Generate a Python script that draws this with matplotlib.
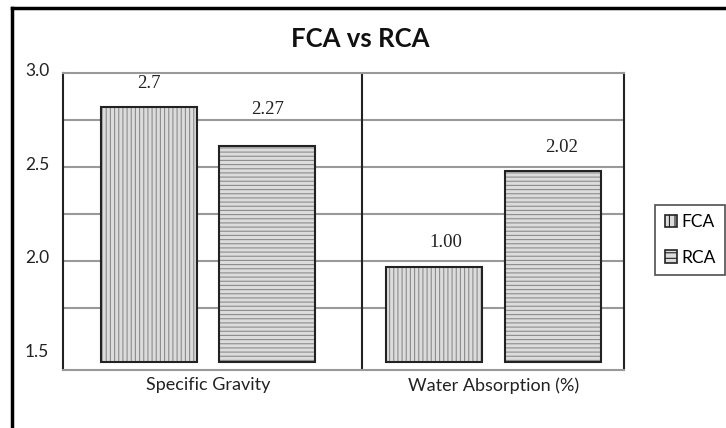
import matplotlib.pyplot as plt
import matplotlib.transforms as mtransforms
from matplotlib.lines import Line2D
from matplotlib.patches import Patch
import numpy as np

# Data
categories = ["Specific Gravity", "Water Absorption (%)"]
series = ["FCA", "RCA"]
fca_heights = [2.82, 1.97]
rca_heights = [2.61, 2.48]
fca_labels = ["2.7", "1.00"]
rca_labels = ["2.27", "2.02"]
yticks = [1.5, 2.0, 2.5, 3.0]
grid_vals = [1.75, 2.0, 2.25, 2.5, 2.75]

plt.rcParams['font.family'] = ['Lato', 'DejaVu Sans']
plt.rcParams['hatch.linewidth'] = 0.8

fig = plt.figure(figsize=(7.26, 4.28), dpi=100)
ax = fig.add_axes([0.0868, 0.1355, 0.7727, 0.6939])

x = np.arange(len(categories))
offset = 0.207
width = 0.336
base = 1.46

hatches = ['||||', '----']
for i, (heights, labels) in enumerate([(fca_heights, fca_labels), (rca_heights, rca_labels)]):
    pos = x + (-offset if i == 0 else offset)
    h = [v - base for v in heights]
    ax.bar(pos, h, width, bottom=base, color='#dcdcdc', edgecolor='#8c8c8c',
           hatch=hatches[i], linewidth=0, zorder=3)
    ax.bar(pos, h, width, bottom=base, fill=False, edgecolor='#222222',
           linewidth=1.5, zorder=4)

# value labels (offsets in pixels)
label_offsets = [[(0, 23), (11, 24)], [(0, 37), (9, 23)]]
for i, (heights, labels) in enumerate([(fca_heights, fca_labels), (rca_heights, rca_labels)]):
    pos = x + (-offset if i == 0 else offset)
    for j in range(len(categories)):
        ax.annotate(labels[j], (pos[j], heights[j]), xytext=label_offsets[i][j],
                    textcoords='offset pixels', ha='center', va='center',
                    fontsize=13.5, family='Liberation Serif', color='#222222')

for g in grid_vals:
    ax.axhline(g, color='#999999', lw=1.5, zorder=1)
ax.axvline(0.539, color='#222222', lw=1.5, zorder=2)

ax.set_xlim(-0.508, 1.457)
ax.set_ylim(1.42, 3.0)
ax.set_yticks(yticks)
ax.set_yticklabels([f"{v:.1f}" for v in yticks], fontsize=12.5)
ax.set_xticks(x)
ax.set_xticklabels(categories, fontsize=13)
ax.tick_params(length=0, pad=10, colors='#222222')
ax.tick_params(axis='x', pad=5)

# reference tick labels sit a little above their values
shift = mtransforms.ScaledTranslation(0, 4 / 100, fig.dpi_scale_trans)
for lbl in ax.get_yticklabels():
    lbl.set_transform(lbl.get_transform() + shift)

for s in ['left', 'right']:
    ax.spines[s].set_color('#222222')
    ax.spines[s].set_linewidth(1.5)
for s in ['top', 'bottom']:
    ax.spines[s].set_color('#999999')
    ax.spines[s].set_linewidth(1.5)

fig.text(0.496, 0.908, "FCA vs RCA", ha='center', va='center',
         fontsize=18.5, fontweight='bold', color='#111111')

handles = [Patch(facecolor='#dcdcdc', edgecolor='#222222', hatch=h, linewidth=1.2)
           for h in ['|||', '---']]
leg = fig.legend(handles, series, loc='center', bbox_to_anchor=(0.9504, 0.4393),
                 fontsize=12.5, frameon=True, fancybox=False, edgecolor='#222222',
                 handlelength=0.7, handleheight=0.7, handletextpad=0.25,
                 labelspacing=1.1, borderpad=0.55, borderaxespad=0)
leg.get_frame().set_linewidth(1.2)

# outer frame
fig.add_artist(Line2D([12 / 726, 12 / 726], [0, 1 - 8 / 428], color='black', lw=2.5))
fig.add_artist(Line2D([12 / 726, 1], [1 - 8 / 428, 1 - 8 / 428], color='black', lw=2.5))

fig.savefig("out.png", dpi=100)
